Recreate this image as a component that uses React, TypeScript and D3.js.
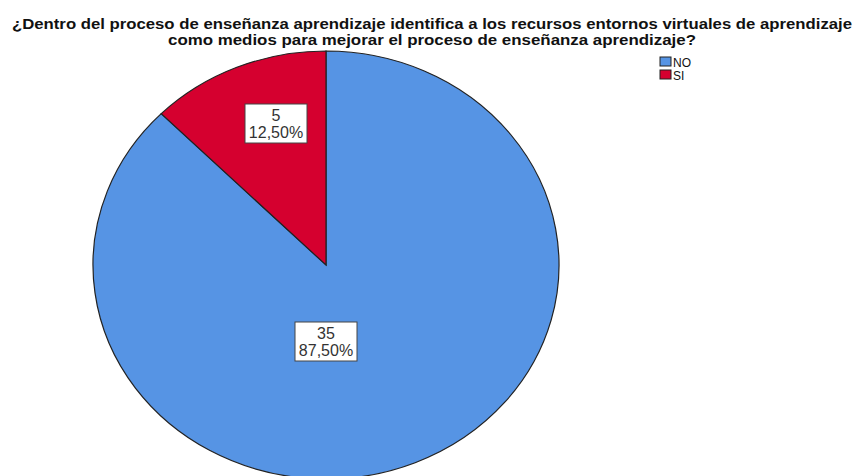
import React from "react";
import * as d3 from "d3";

const categories = ["NO", "SI"];
const counts = [35, 5];
const percents = ["87,50%", "12,50%"];
const colors = ["#5694E4", "#D5002F"];
const titleLines = [
  "¿Dentro del proceso de enseñanza aprendizaje identifica a los recursos entornos virtuales de aprendizaje",
  "como medios para mejorar el proceso de enseñanza aprendizaje?",
];

export default function App() {
  const W = 859, H = 476;
  const cx = 326, cy = 265, ry = 214, rx = 233;
  const sx = rx / ry;
  const arcs = d3.pie<number>().sort(null).value((d) => d)(counts);
  const arcGen = d3.arc<d3.PieArcDatum<number>>().innerRadius(0).outerRadius(ry);
  const labelPos = [
    [326, 341.5],
    [276, 123.5],
  ];
  const titleLens = [840, 528];
  return (
    <svg width={W} height={H} style={{ position: "absolute", left: 0, top: 0, fontFamily: "Liberation Sans, Arial, sans-serif" }}>
      <rect width={W} height={H} fill="#fff" />
      {titleLines.map((t, i) => (
        <text key={i} x={432} y={28.5 + i * 16} textAnchor="middle" fontSize={15} fontWeight="bold" fill="#111"
          textLength={titleLens[i]} lengthAdjust="spacingAndGlyphs">
          {t}
        </text>
      ))}
      <g transform={`translate(${cx},${cy}) scale(${sx},1)`}>
        {arcs.map((a, i) => (
          <path key={i} d={arcGen(a) || ""} fill={colors[i]} stroke="#222" strokeWidth={1.2 / sx} />
        ))}
      </g>
      {categories.map((c, i) => {
        const [lx, ly] = labelPos[i];
        return (
          <g key={c}>
            <rect x={lx - 31} y={ly - 19.5} width={62} height={39} fill="#fff" stroke="#444" strokeWidth={1} />
            <text x={lx} y={ly - 2.5} textAnchor="middle" fontSize={16} fill="#333">{counts[i]}</text>
            <text x={lx} y={ly + 14} textAnchor="middle" fontSize={16} fill="#333">{percents[i]}</text>
          </g>
        );
      })}
      {categories.map((c, i) => (
        <g key={"lg" + c} transform={`translate(660,${57 + i * 13})`}>
          <rect x={0} y={0} width={11} height={9} fill={colors[i]} stroke="#222" strokeWidth={1} />
          <text x={13} y={9.5} fontSize={12} fill="#111">{c}</text>
        </g>
      ))}
    </svg>
  );
}
